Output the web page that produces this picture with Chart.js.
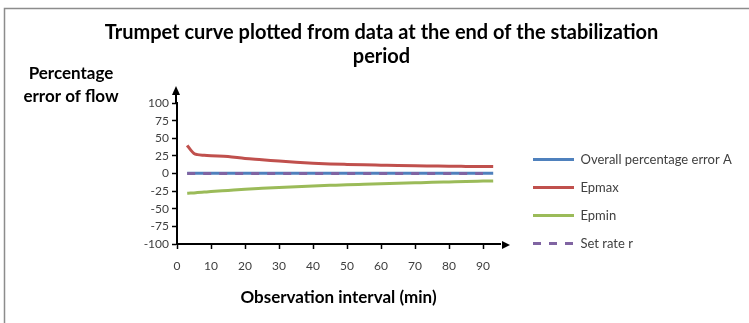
<!DOCTYPE html>
<html>
<head>
<meta charset="utf-8">
<script src="https://cdn.jsdelivr.net/npm/chart.js@4.4.1/dist/chart.umd.min.js"></script>
<style>
  html, body { margin: 0; padding: 0; background: #fff; }
  #wrap { width: 749px; height: 323px; }
</style>
</head>
<body>
<div id="wrap"><canvas id="trumpet" width="749" height="323"></canvas></div>
<script>
// observation interval (min) and the three error curves
const minutes = [3, 4, 5, 6, 8, 10, 15, 20, 25, 30, 35, 40, 45, 50, 55, 60, 65, 70, 75, 80, 85, 90, 93];
const overallA = [0.3, 0.3, 0.3, 0.3, 0.3, 0.3, 0.3, 0.3, 0.3, 0.3, 0.3, 0.3, 0.3, 0.3, 0.3, 0.3, 0.3, 0.3, 0.3, 0.3, 0.3, 0.3, 0.3];
const epmax = [40, 33.5, 28.5, 26.8, 25.8, 25.2, 24.2, 21.3, 19.6, 17.6, 15.9, 14.6, 13.6, 12.9, 12.3, 11.8, 11.3, 10.9, 10.6, 10.3, 10.1, 9.9, 9.8];
const epmin = [-28, -27.8, -27.5, -27.1, -26.4, -25.7, -24, -22.3, -21, -19.8, -18.7, -17.6, -16.8, -16, -15.3, -14.6, -13.9, -13.2, -12.5, -11.9, -11.3, -10.8, -10.5];
const setRate = [0, 0, 0, 0, 0, 0, 0, 0, 0, 0, 0, 0, 0, 0, 0, 0, 0, 0, 0, 0, 0, 0, null];

const seriesNames = ['Overall percentage error A', 'Epmax', 'Epmin', 'Set rate r'];
const titleLines = ['Trumpet curve plotted from data at the end of the stabilization', 'period'];
const yTitleLines = ['Percentage', 'error of flow'];
const xTitle = 'Observation interval (min)';

const FONT = 'Lato, "Open Sans", sans-serif';
const pts = arr => minutes.map((m, i) => ({ x: m, y: arr[i] }));

// frame, axis arrows, horizontal y title, and legend placement
const decor = {
    id: 'decor',
    beforeDraw(chart) {
        const c = chart.ctx;
        c.save();
        c.fillStyle = '#fff';
        c.fillRect(0, 0, chart.width, chart.height);
        c.strokeStyle = '#8c8c8c';
        c.lineWidth = 1.5;
        c.strokeRect(4.5, 8.5, chart.width + 20, chart.height + 20);
        c.restore();
    },
    afterLayout(chart) {
        const lg = chart.legend;
        if (!lg) return;
        // Excel puts the legend a bit right of the plot and lower than centre
        lg.left = 518; lg.right = chart.width;
        lg.top += 40; lg.bottom += 40;
    },
    afterDraw(chart) {
        const c = chart.ctx, a = chart.chartArea;
        c.save();
        c.fillStyle = '#000';
        c.strokeStyle = '#000';
        c.lineWidth = 2;
        // y arrow
        const ax = a.left - 1;
        c.beginPath(); c.moveTo(ax, a.top); c.lineTo(ax, a.top - 11); c.stroke();
        c.beginPath(); c.moveTo(ax, a.top - 17); c.lineTo(ax - 4, a.top - 8); c.lineTo(ax + 4, a.top - 8); c.closePath(); c.fill();
        // x arrow
        const ay = a.bottom + 1;
        c.beginPath(); c.moveTo(a.right + 2, ay - 4); c.lineTo(a.right + 10, ay); c.lineTo(a.right + 2, ay + 4); c.closePath(); c.fill();
        // y title, horizontal above the axis
        c.font = 'bold 17px ' + FONT;
        c.textAlign = 'center';
        c.textBaseline = 'middle';
        c.fillText(yTitleLines[0], 71, 74);
        c.fillText(yTitleLines[1], 71, 97);
        c.restore();
    }
};

Chart.defaults.font.family = FONT;
Chart.defaults.color = '#404040';

new Chart(document.getElementById('trumpet'), {
    type: 'line',
    data: {
        datasets: [
            { label: seriesNames[0], data: pts(overallA), borderColor: '#4f81bd', backgroundColor: '#4f81bd', borderWidth: 3, order: 2 },
            { label: seriesNames[1], data: pts(epmax), borderColor: '#c0504d', backgroundColor: '#c0504d', borderWidth: 3, order: 2 },
            { label: seriesNames[2], data: pts(epmin), borderColor: '#9bbb59', backgroundColor: '#9bbb59', borderWidth: 3, order: 2 },
            { label: seriesNames[3], data: pts(setRate), borderColor: '#8064a2', backgroundColor: '#8064a2', borderWidth: 3, borderDash: [8, 8], order: 1 }
        ]
    },
    options: {
        responsive: false,
        animation: false,
        events: [],
        elements: { point: { radius: 0 }, line: { cubicInterpolationMode: 'monotone', borderCapStyle: 'butt' } },
        layout: { padding: { left: 63, right: 49, top: 0, bottom: 0 } },
        plugins: {
            title: {
                display: true,
                text: titleLines,
                color: '#000',
                font: { size: 20, weight: 'bold', lineHeight: 1.2 },
                padding: { top: 21, bottom: 34 }
            },
            legend: {
                position: 'right',
                maxWidth: 200,
                labels: {
                    usePointStyle: true,
                    pointStyle: 'line',
                    pointStyleWidth: 41,
                    padding: 15,
                    color: '#404040',
                    font: { size: 13 },
                    sort: (a, b) => a.datasetIndex - b.datasetIndex,
                    generateLabels: chart => Chart.defaults.plugins.legend.labels.generateLabels(chart).map(item => {
                        const ds = chart.data.datasets[item.datasetIndex];
                        return { ...item, lineWidth: 3, strokeStyle: ds.borderColor, lineDash: ds.borderDash || [] };
                    })
                }
            },
            tooltip: { enabled: false }
        },
        scales: {
            x: {
                type: 'linear',
                min: 0,
                max: 95,
                afterFit: s => { s.height = 79; },
                ticks: { stepSize: 10, includeBounds: false, padding: 10, font: { size: 12 }, color: '#404040' },
                grid: { drawOnChartArea: false, tickLength: 5, tickColor: '#000', tickWidth: 1.5 },
                border: { color: '#000', width: 2 },
                title: { display: true, text: xTitle, color: '#000', font: { size: 17, weight: 'bold' }, padding: { top: 0, bottom: 15 } }
            },
            y: {
                min: -100,
                max: 100,
                afterFit: s => { s.width = 114; },
                ticks: { stepSize: 25, padding: 3, font: { size: 12 }, color: '#404040' },
                grid: { drawOnChartArea: false, tickLength: 5, tickColor: '#000', tickWidth: 1.5 },
                border: { color: '#000', width: 2 }
            }
        }
    },
    plugins: [decor]
});
</script>
</body>
</html>
